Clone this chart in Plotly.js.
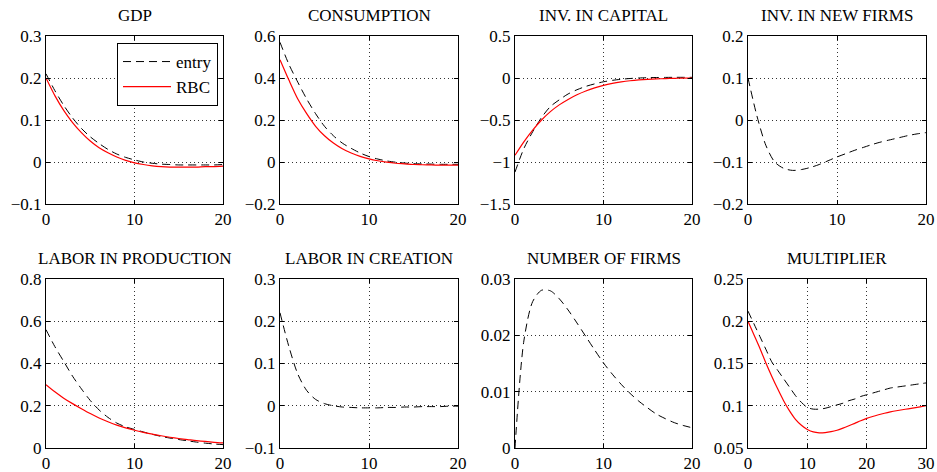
<!DOCTYPE html>
<html>
<head>
<meta charset="utf-8">
<script src="https://cdn.plot.ly/plotly-3.0.1.min.js"></script>
<style>html,body{margin:0;padding:0;background:#fff;}#chart{width:937px;height:472px;}</style>
</head>
<body>
<div id="chart"></div>
<script>
// ---- data ----
const periods20 = [0,1,2,3,4,5,6,7,8,9,10,11,12,13,14,15,16,17,18,19,20];
const periods30 = [0,1,2,3,4,5,6,7,8,9,10,11,12,13,14,15,16,17,18,19,20,21,22,23,24,25,26,27,28,29,30];

const panelTitles = ["GDP","CONSUMPTION","INV. IN CAPITAL","INV. IN NEW FIRMS",
                     "LABOR IN PRODUCTION","LABOR IN CREATION","NUMBER OF FIRMS","MULTIPLIER"];
const seriesNames = ["entry","RBC"];

const gdpEntry = [0.21,0.17,0.135,0.105,0.08,0.06,0.044,0.03,0.019,0.011,0.005,0.0,-0.003,-0.005,-0.006,-0.007,-0.007,-0.007,-0.007,-0.007,-0.006];
const gdpRBC   = [0.20,0.158,0.123,0.094,0.07,0.05,0.034,0.022,0.012,0.004,-0.002,-0.006,-0.009,-0.011,-0.012,-0.012,-0.012,-0.012,-0.011,-0.011,-0.01];

const consEntry = [0.57,0.465,0.38,0.30,0.23,0.17,0.125,0.09,0.065,0.043,0.026,0.014,0.005,-0.001,-0.005,-0.008,-0.009,-0.01,-0.011,-0.011,-0.011];
const consRBC   = [0.487,0.39,0.30,0.23,0.17,0.125,0.09,0.063,0.043,0.027,0.015,0.006,-0.001,-0.006,-0.009,-0.012,-0.013,-0.014,-0.015,-0.015,-0.015];

const invKEntry = [-1.12,-0.84,-0.64,-0.47,-0.34,-0.26,-0.19,-0.14,-0.1,-0.07,-0.045,-0.028,-0.015,-0.006,0.0,0.004,0.006,0.007,0.008,0.008,0.008];
const invKRBC   = [-0.92,-0.76,-0.62,-0.5,-0.4,-0.32,-0.255,-0.2,-0.155,-0.118,-0.088,-0.065,-0.047,-0.033,-0.023,-0.016,-0.011,-0.007,-0.004,-0.002,0.0];

const invFirmsEntry = [0.1,0.01,-0.06,-0.1,-0.115,-0.12,-0.118,-0.113,-0.106,-0.097,-0.088,-0.08,-0.072,-0.065,-0.058,-0.052,-0.047,-0.042,-0.037,-0.033,-0.03];

const labProdEntry = [0.56,0.48,0.41,0.34,0.28,0.225,0.18,0.145,0.118,0.1,0.088,0.076,0.065,0.055,0.047,0.04,0.034,0.028,0.023,0.019,0.016];
const labProdRBC   = [0.3,0.266,0.236,0.21,0.186,0.163,0.142,0.124,0.108,0.095,0.084,0.074,0.066,0.058,0.051,0.045,0.04,0.035,0.031,0.027,0.024];

const labCreatEntry = [0.22,0.14,0.075,0.036,0.015,0.005,0.0,-0.003,-0.004,-0.005,-0.005,-0.005,-0.004,-0.004,-0.003,-0.003,-0.002,-0.002,-0.002,-0.001,-0.001];

const nFirmsEntry = [0,0.019,0.026,0.028,0.0279,0.0265,0.0245,0.0222,0.0198,0.0174,0.0151,0.0131,0.0113,0.0097,0.0083,0.0071,0.006,0.0052,0.0045,0.004,0.0036];

const multEntry = [0.212,0.197,0.182,0.167,0.152,0.142,0.132,0.122,0.112,0.104,0.098,0.096,0.096,0.097,0.099,0.101,0.103,0.106,0.108,0.111,0.113,0.115,0.117,0.119,0.121,0.122,0.123,0.124,0.125,0.126,0.127];
const multRBC   = [0.2,0.184,0.168,0.151,0.135,0.12,0.106,0.094,0.084,0.077,0.072,0.069,0.068,0.0683,0.0693,0.071,0.0735,0.0763,0.0792,0.0822,0.085,0.0873,0.0893,0.0911,0.0927,0.0941,0.0953,0.0964,0.0975,0.0987,0.1];

// y-axis ranges and tick steps per panel
const yRanges = [[-0.1,0.3],[-0.2,0.6],[-1.5,0.5],[-0.2,0.2],[0,0.8],[-0.1,0.3],[0,0.03],[0.05,0.25]];
const yDticks = [0.1,0.2,0.5,0.1,0.2,0.1,0.01,0.05];
const xRanges = [[0,20],[0,20],[0,20],[0,20],[0,20],[0,20],[0,20],[0,30]];

// ---- layout geometry (pixels) ----
const W = 937, H = 472;
const colPx = [[46,223],[280,458],[515,692],[748,926]];
const rowPx = [[36,204],[279,448]];

const panels = [
  {x: periods20, entry: gdpEntry, rbc: gdpRBC},
  {x: periods20, entry: consEntry, rbc: consRBC},
  {x: periods20, entry: invKEntry, rbc: invKRBC},
  {x: periods20, entry: invFirmsEntry, rbc: null},
  {x: periods20, entry: labProdEntry, rbc: labProdRBC},
  {x: periods20, entry: labCreatEntry, rbc: null},
  {x: periods20, entry: nFirmsEntry, rbc: null},
  {x: periods30, entry: multEntry, rbc: multRBC}
];

const FONT = "Liberation Serif, Times New Roman, serif";
const FS = 17;
const traces = [];
const layout = {
  width: W, height: H,
  margin: {l:0, r:0, t:0, b:0},
  paper_bgcolor: "#fff", plot_bgcolor: "#fff",
  font: {family: FONT, size: FS, color: "#000"},
  showlegend: true,
  legend: {
    x: 218/W, xanchor: "right", y: 1 - 43/H, yanchor: "top",
    bgcolor: "#fff", bordercolor: "#000", borderwidth: 1,
    font: {family: FONT, size: FS, color: "#000"},
    tracegroupgap: 0, itemwidth: 48
  },
  annotations: []
};

panels.forEach((p, i) => {
  const n = i + 1;
  const xa = "x" + (n === 1 ? "" : n), ya = "y" + (n === 1 ? "" : n);
  const col = i % 4, row = Math.floor(i / 4);
  const axStyle = {
    showline: true, mirror: "ticks", linecolor: "#000", linewidth: 1,
    ticks: "inside", ticklen: 4, tickcolor: "#000",
    showgrid: true, gridcolor: "#333", griddash: "1px,3px", gridwidth: 1,
    zeroline: false, fixedrange: true,
    tickfont: {family: FONT, size: FS, color: "#000"}
  };
  layout["xaxis" + (n === 1 ? "" : n)] = Object.assign({}, axStyle, {
    domain: [colPx[col][0]/W, colPx[col][1]/W],
    range: xRanges[i], dtick: 10, tick0: 0, anchor: ya
  });
  layout["yaxis" + (n === 1 ? "" : n)] = Object.assign({}, axStyle, {
    domain: [1 - rowPx[row][1]/H, 1 - rowPx[row][0]/H],
    range: yRanges[i], dtick: yDticks[i], tick0: 0, anchor: xa
  });
  layout.annotations.push({
    text: panelTitles[i], xref: "paper", yref: "paper",
    x: (colPx[col][0] + colPx[col][1]) / 2 / W,
    y: 1 - (rowPx[row][0] - 9) / H, yanchor: "bottom", xanchor: "center",
    showarrow: false, font: {family: FONT, size: FS, color: "#000"}
  });
  traces.push({
    x: p.x, y: p.entry, xaxis: xa, yaxis: ya, mode: "lines", type: "scatter",
    name: seriesNames[0], showlegend: i === 0, legendgroup: "entry",
    line: {color: "#000", width: 1, dash: "8px,5px", shape: "spline", smoothing: 0.8},
    hoverinfo: "skip"
  });
  if (p.rbc) {
    traces.push({
      x: p.x, y: p.rbc, xaxis: xa, yaxis: ya, mode: "lines", type: "scatter",
      name: seriesNames[1], showlegend: i === 0, legendgroup: "rbc",
      line: {color: "#ff0000", width: 1.2, shape: "spline", smoothing: 0.8},
      hoverinfo: "skip"
    });
  }
});

Plotly.newPlot("chart", traces, layout, {displayModeBar: false, staticPlot: true});
</script>
</body>
</html>
